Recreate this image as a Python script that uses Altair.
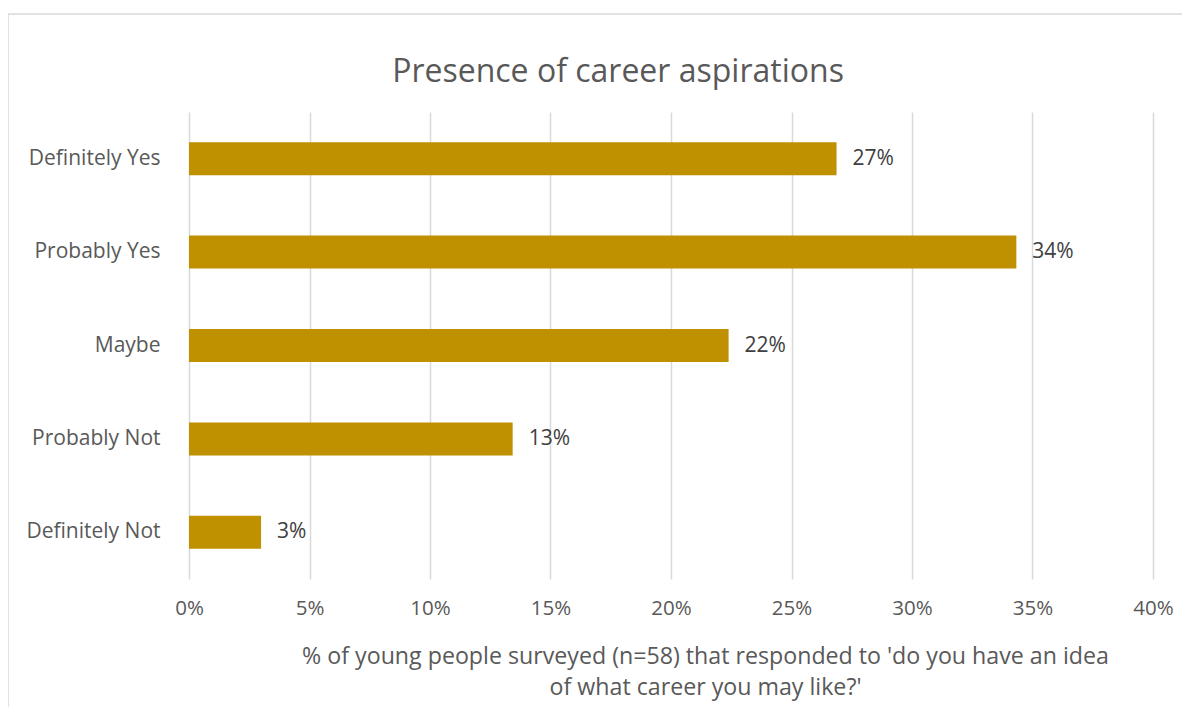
import altair as alt
import pandas as pd

categories = ["Definitely Yes", "Probably Yes", "Maybe", "Probably Not", "Definitely Not"]
shares = [0.2687, 0.3433, 0.2239, 0.1343, 0.0299]
x_ticks = [0, 0.05, 0.10, 0.15, 0.20, 0.25, 0.30, 0.35, 0.40]

title_text = "Presence of career aspirations"
x_title = ["% of  young people surveyed (n=58) that responded to 'do you have an idea",
           "of what career you may like?'"]

df = pd.DataFrame({"category": categories, "share": shares})

FONT = "Open Sans"
GREY = "#595959"
W, H = 964, 467

base = alt.Chart(df)

bars = base.mark_bar(color="#BF9000").encode(
    y=alt.Y("category:N", sort=categories,
            scale=alt.Scale(paddingInner=0.647, paddingOuter=0.3235),
            axis=alt.Axis(title=None, domain=False, ticks=False, labelPadding=29,
                          labelFontSize=21, labelColor=GREY, labelFont=FONT, grid=False)),
    x=alt.X("share:Q", scale=alt.Scale(domain=[0, 0.4], nice=False),
            axis=alt.Axis(values=x_ticks, format=".0%", title=x_title,
                          domain=False, ticks=False, labelPadding=19, labelFlush=False,
                          labelFontSize=20.5, labelColor=GREY, labelFont=FONT,
                          grid=True, gridColor="#D9D9D9", gridWidth=1.5,
                          titleFontSize=23.2, titleColor=GREY, titleFont=FONT,
                          titleFontWeight="normal", titleLineHeight=31,
                          titleX=516, titleY=66, titleAlign="center",
                          titleBaseline="top")),
)

labels = base.mark_text(align="left", baseline="middle", dx=16, fontSize=21,
                        color="#404040", font=FONT).encode(
    y=alt.Y("category:N", sort=categories),
    x="share:Q",
    text=alt.Text("share:Q", format=".0%"),
)

border_data = alt.Data(values=[{"k": 1}])
left_border = alt.Chart(border_data).mark_rule(color="#D9D9D9", strokeWidth=1.5).encode(
    x=alt.value(-181), y=alt.value(-98), y2=alt.value(620)
)
top_border = alt.Chart(border_data).mark_rule(color="#D9D9D9", strokeWidth=1.5).encode(
    x=alt.value(-181), x2=alt.value(1010), y=alt.value(-98)
)

chart = alt.layer(left_border, top_border, bars, labels).properties(
    width=W, height=H,
    background="white",
    autosize=alt.AutoSizeParams(type="none"),
    padding={"left": 181, "top": 104, "right": 29, "bottom": 128},
    title=alt.TitleParams(title_text, fontSize=32, color=GREY, font=FONT,
                          fontWeight="normal", anchor="middle", dx=-53, offset=-76),
).configure_view(stroke="transparent", strokeWidth=0)

chart.save("out.html", embed_options={"renderer": "svg", "actions": False})
